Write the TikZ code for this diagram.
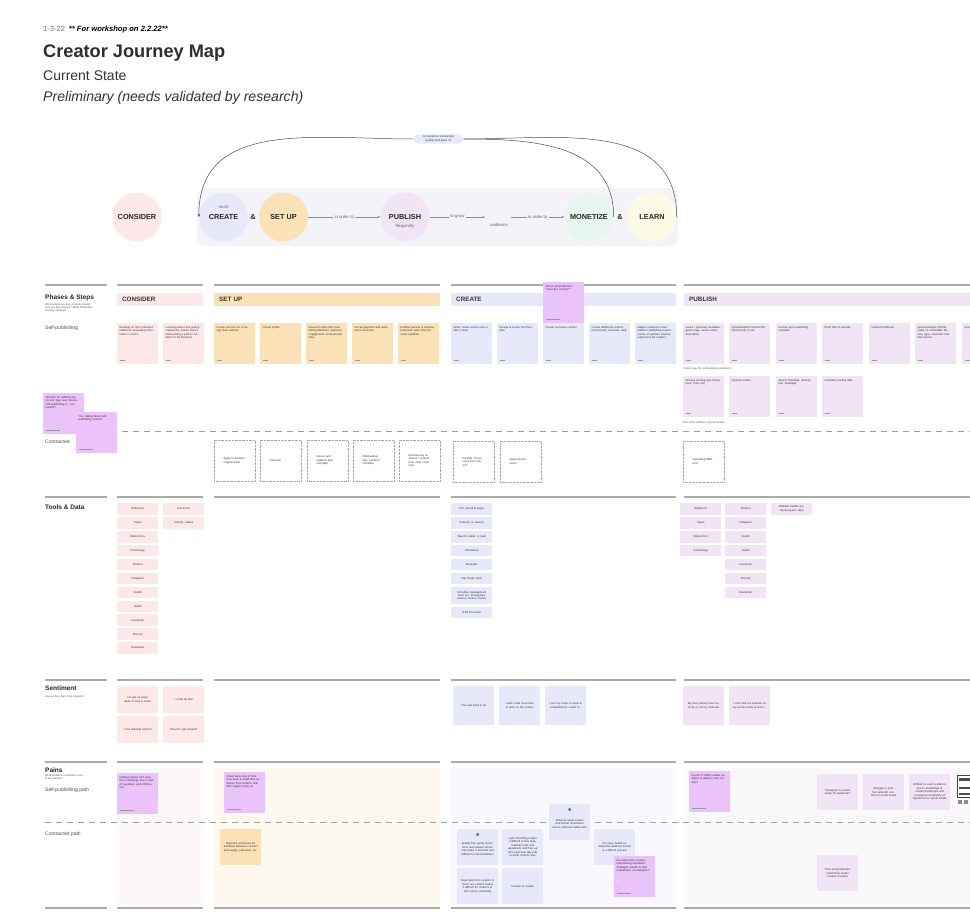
\documentclass[tikz,border=0pt]{standalone}
\usepackage{fontspec}
\setmainfont{Liberation Sans}
\usetikzlibrary{arrows.meta}

\definecolor{consfill}{HTML}{FDE8E9}
\definecolor{setfill}{HTML}{FBE2B6}
\definecolor{creafill}{HTML}{E7E9FA}
\definecolor{pubfill}{HTML}{F1E5F5}
\definecolor{lilac}{HTML}{EBC3FB}
\definecolor{mintfill}{HTML}{E7F6EE}
\definecolor{lemonfill}{HTML}{FBFBE6}
\definecolor{flowbg}{HTML}{F4F4F8}
\definecolor{goalfill}{HTML}{E6E9FB}
\definecolor{painA}{HTML}{FCF8FA}
\definecolor{painB}{HTML}{FEF9EF}
\definecolor{painC}{HTML}{F8F8FE}
\definecolor{painD}{HTML}{FBF8FC}

\tikzset{
    sep/.style       = { draw=black!33, line width=1.1pt },
    lane/.style      = { draw=black!38, line width=1pt, dash pattern=on 6pt off 5pt },
    heading/.style   = { anchor=base west, inner sep=0pt, font=\fontsize{6.5}{7}\selectfont\bfseries, text=black!85 },
    rowlabel/.style  = { anchor=base west, inner sep=0pt, font=\fontsize{5}{6}\selectfont, text=black!70 },
    hint/.style      = { anchor=north west, inner sep=0pt, text width=52pt, align=left,
        font=\fontsize{2.6}{3.3}\selectfont, text=black!70 },
    bar/.style       = { rectangle, anchor=north west, minimum height=13pt, text width=#1,
        inner xsep=5pt, inner ysep=0pt, align=left, font=\fontsize{6.3}{7}\selectfont\bfseries, text=black!80 },
    card/.style      = { rectangle, anchor=north west, minimum width=41pt, minimum height=41pt, inner sep=0pt },
    sticky/.style    = { card, fill=#1, label={[tagtext]south west:{\rule{5pt}{0.5pt}}} },
    comment/.style   = { card, fill=lilac, label={[tagtext]south west:{\rule{14pt}{0.5pt}}} },
    note/.style      = { label={[notetext]north west:{#1}} },
    notetext/.style  = { anchor=north west, xshift=2.5pt, yshift=-3pt, inner sep=0pt, text width=35pt,
        align=left, font=\fontsize{2.8}{3.5}\selectfont, text=black!80 },
    tagtext/.style   = { anchor=south west, xshift=2.5pt, yshift=3pt, inner sep=0pt, text=black!40 },
    tool/.style      = { rectangle, anchor=north west, fill=#1, minimum width=41pt, minimum height=11.5pt,
        text width=38pt, inner sep=0.5pt, align=center, font=\fontsize{2.8}{3.4}\selectfont, text=black!80 },
    contract/.style  = { rectangle, anchor=north west, fill=white, draw=black!35, densely dotted,
        minimum width=41pt, minimum height=41pt, text width=22pt, inner sep=0pt, align=left,
        font=\fontsize{2.8}{3.5}\selectfont, text=black!80 },
    mood/.style      = { rectangle, anchor=north west, fill=#1, minimum width=41pt, text width=34pt,
        inner sep=0pt, align=center, font=\fontsize{2.8}{3.5}\selectfont, text=black!80 },
    pain/.style      = { rectangle, anchor=north west, fill=#1, minimum width=41pt, minimum height=36pt,
        text width=35pt, inner sep=0pt, align=center, font=\fontsize{2.8}{3.5}\selectfont, text=black!80 },
    flagged/.style   = { label={[flagdot]north:{}} },
    flagdot/.style   = { circle, fill=black!55, inner sep=0pt, minimum size=3.5pt, anchor=north, yshift=-3.5pt },
    phase/.style     = { circle, minimum size=49pt, inner sep=0pt, font=\fontsize{7.3}{8}\selectfont\bfseries, text=black!85 },
    flowlabel/.style = { inner sep=1.2pt, fill=flowbg, font=\fontsize{4.3}{5}\selectfont, text=black!60 },
    flowarrow/.style = { draw=black!45, line width=0.5pt, -{Stealth[length=2.5pt,width=2pt]} },
    arc/.style       = { draw=black!70, line width=0.5pt },
}

\begin{document}
\begin{tikzpicture}[x=1pt, y=-1pt]
\useasboundingbox[fill=white] (0,0) rectangle (970,916);

% title block
\node[anchor=base west, inner sep=0pt, font=\fontsize{7.6}{8}\selectfont] (date) at (43,31.5)
    {\textcolor{black!55}{1-3-22}\enspace\textbf{\textit{** For workshop on 2.2.22**}}};
\node[anchor=base west, inner sep=0pt, font=\fontsize{18.2}{20}\selectfont\bfseries, text=black!82] (title) at (43,57) {Creator Journey Map};
\node[anchor=base west, inner sep=0pt, font=\fontsize{14}{16}\selectfont, text=black!80] (state) at (43,80) {Current State};
\node[anchor=base west, inner sep=0pt, font=\fontsize{14.1}{16}\selectfont\itshape, text=black!80] (prelim) at (43,101) {Preliminary (needs validated by research)};

% journey loop
\node[phase, fill=consfill] (consider) at (137,217) {CONSIDER};
\fill[flowbg, rounded corners=8pt] (197,188) rectangle (678,246);
\node[phase, fill=creafill] (create) at (223.5,217) {CREATE};
\node[phase, fill=setfill] (setup) at (283.5,217) {SET UP};
\node[phase, fill=pubfill] (publish) at (405,217) {PUBLISH};
\node[phase, fill=mintfill] (monetize) at (589,217) {MONETIZE};
\node[phase, fill=lemonfill] (learn) at (652,217) {LEARN};
\node[flowlabel, fill=none] (must) at (223.5,207) {must};
\node[flowlabel, fill=none] (often) at (405,226) {frequently};
\node[phase, minimum size=0pt] (amp1) at (253,217) {\&};
\node[phase, minimum size=0pt] (amp2) at (620,217) {\&};
\node[flowlabel] (audience) at (499,225) {audience};
\coordinate (growend) at (485,217);
\coordinate (audout) at (511,217);
\draw[flowarrow] (setup) -- node[flowlabel] {in order to} (publish);
\draw[flowarrow] (publish) -- node[flowlabel] {to grow} (growend);
\draw[flowarrow] (audout) -- node[flowlabel] {in order to} (monetize);
\node[rectangle, rounded corners=5pt, fill=goalfill, inner sep=1.5pt, minimum width=50pt, align=center,
    font=\fontsize{3}{3.6}\selectfont, text=black!75] (goal) at (438.5,139) {to sustain or accelerate\\quality and pace of:};
\draw[arc, -{Stealth[length=3pt,width=2.5pt]}] (goal.west) to[out=180, in=90, looseness=1.1] (create.west);
\draw[arc] (goal.east) to[out=0, in=90, looseness=1.1] (monetize.east);
\draw[arc] (goal.east) to[out=0, in=90, looseness=1.1] (learn.east);

% lane rules
\foreach \y in {285,497,680,762,908}
    \foreach \a/\b in {45/107,117/203,214/440,451/676,684/970}
        \draw[sep] (\a,\y) -- (\b,\y);

% pains backgrounds
\fill[painA] (117,768) rectangle (203,906);
\fill[painB] (214,768) rectangle (440,906);
\fill[painC] (451,768) rectangle (676,906);
\fill[painD] (684,768) rectangle (970,906);

\draw[lane] (45,431) -- (970,431);
\draw[lane] (45,822) -- (970,822);

% phases & steps
\node[heading] (phases) at (45,299.5) {Phases \& Steps};
\node[hint] (phaseshint) at (45,303) {What actions are they currently taking? How are they doing it? What information are they seeking?};
\node[rowlabel] (selfpub) at (45,329) {Self-publishing};
\node[rowlabel] (contracted) at (45,443.5) {Contracted};

\node[bar=76pt, fill=consfill] (barconsider) at (117,293) {CONSIDER};
\node[bar=216pt, fill=setfill] (barsetup) at (214,293) {SET UP};
\node[bar=215pt, fill=creafill] (barcreate) at (451,293) {CREATE};
\node[bar=276pt, fill=pubfill] (barpublish) at (684,293) {PUBLISH};

\node[sticky=consfill, note={Reading on their preferred platforms; developing their taste in comics}] (cons1) at (117,323) {};
\node[sticky=consfill, note={Learning about and getting inspired by creator stories (discovering a path to creation for themselves)}] (cons2) at (163,323) {};

\node[sticky=setfill, note={Create account on or design their website}] (set1) at (214,323) {};
\node[sticky=setfill, note={Create profile}] (set2) at (260,323) {};
\node[sticky=setfill, note={Research with other publishing platforms, payment, engagement, and potential titles}] (set3) at (306,323) {};
\node[sticky=setfill, note={Set up payment and assistance accounts}] (set4) at (352,323) {};
\node[sticky=setfill, note={Enable revenue \& develop proposals when they become qualified}] (set5) at (398,323) {};

\node[sticky=creafill, note={Write / draw comics solo or with a team}] (crea1) at (451,323) {};
\node[sticky=creafill, note={Design \& create merchandise}] (crea2) at (497,323) {};
\node[sticky=creafill, note={Create exclusive content}] (crea3) at (543,323) {};
\node[sticky=creafill, note={Create additional content (Community, previews, edit)}] (crea4) at (589,323) {};
\node[sticky=creafill, note={Adapts content to meet platform publishing requirements or optimize viewing experience for readers}] (crea5) at (635,323) {};
\node[comment, note={Which self-publishers *monetize content*?}] (askmonetize) at (543,282) {};

\node[sticky=pubfill, note={Select / generate metadata: genre, tags, series name, description}] (pub1) at (683,323) {};
\node[sticky=pubfill, note={Upload/submit content (file size/format) to site}] (pub2) at (729,323) {};
\node[sticky=pubfill, note={Decide upon publishing schedule}] (pub3) at (776,323) {};
\node[sticky=pubfill, note={Enter title of episode}] (pub4) at (822,323) {};
\node[sticky=pubfill, note={Upload thumbnail}] (pub5) at (869,323) {};
\node[sticky=pubfill, note={Upload images (thumbnails) on compatible file size, type, resolution and dimensions}] (pub6) at (915,323) {};
\node[sticky=pubfill, note={Schedule episode release}] (pub7) at (962,323) {};
\node[hint, text width=80pt] (comichint) at (683,367.5) {Comics specific, self-publishing platforms};
\node[sticky=pubfill, note={Choose posting type (Story, Reel, Post, etc)}] (soc1) at (683,376) {};
\node[sticky=pubfill, note={Upload content}] (soc2) at (729,376) {};
\node[sticky=pubfill, note={Attach metadata: description, hashtags}] (soc3) at (776,376) {};
\node[sticky=pubfill, note={Schedule posting date}] (soc4) at (822,376) {};
\node[hint, text width=80pt] (socialhint) at (683,421.5) {Non-comic platforms (social media)};

\node[comment, note={Should I be splitting any Creator type user stories: Self-publishing vs. contracted?}] (asksplit) at (43,393) {};
\node[comment, note={Yes, talking about self-publishing creators}] (answersplit) at (76,412) {};

% contracted row
\node[contract] (con1) at (214,440) {Apply to become original artist};
\node[contract] (con2) at (260,440) {Interview};
\node[contract] (con3) at (307,440) {Revise and adapt to their storyplan};
\node[contract] (con4) at (353,440) {Onboarding / sign contract / complete};
\node[contract] (con5) at (399,440) {Receive any revisions / content from other channels};
\node[contract] (con6) at (453,441) {Rounds of revisions from editor?};
\node[contract] (con7) at (500,441) {Approval process?};
\node[contract] (con8) at (683,441) {Uploading different?};

% tools & data
\node[heading] (tools) at (45,509) {Tools \& Data};
\foreach \t [count=\i from 0] in {Webtoons, Tapas, Webcomics, Comixology, Patreon, Instagram, Reddit, Twitter, Facebook, Discord, Deviantart}
    \node[tool=consfill] (ctool\i) at (117,{503+13.9*\i}) {\t};
\node[tool=consfill] (ctoolcon) at (163,503) {ComicCon};
\node[tool=consfill] (ctoolart) at (163,516.9) {Articles, videos};
\foreach \t [count=\i from 0] in {{Pen, pencil \& paper}, Scanner or camera, {Wacom, tablet, or ipad}, Photoshop, Illustrator, Clip Studio Paint}
    \node[tool=creafill] (ttool\i) at (451,{503+13.9*\i}) {\t};
\node[tool=creafill, minimum height=17pt] (ttoolplan) at (451,587) {Schedule management tools (ex: Instagram's planner, Notion, Trello)};
\node[tool=creafill] (ttoolipad) at (451,606.5) {iPad Procreate};
\foreach \t [count=\i from 0] in {Webtoons, Tapas, Webcomics, Comixology}
    \node[tool=pubfill] (ptool\i) at (680,{503+13.9*\i}) {\t};
\foreach \t [count=\i from 0] in {Patreon, Instagram, Reddit, Twitter, Facebook, Discord, Deviantart}
    \node[tool=pubfill] (stool\i) at (725,{503+13.9*\i}) {\t};
\node[tool=pubfill] (ptoolweb) at (771,503) {Website builder (ex: Squarespace, Wix)};

% sentiment
\node[heading] (sentiment) at (45,690) {Sentiment};
\node[hint] (sentimenthint) at (45,695.5) {How do they feel in the moment?};
\node[mood=consfill, minimum height=27pt] (feel1) at (117,686) {I've got so many ideas in how to share};
\node[mood=consfill, minimum height=27pt] (feel2) at (163,686) {I could do that};
\node[mood=consfill, minimum height=27pt] (feel3) at (117,716) {I love drawing comics!};
\node[mood=consfill, minimum height=27pt] (feel4) at (163,716) {How do I get started?};
\node[mood=creafill, minimum height=39pt] (feel5) at (453,686) {This was hard to do};
\node[mood=creafill, minimum height=39pt] (feel6) at (499,686) {I wish I had more time to work on the comics};
\node[mood=creafill, minimum height=39pt] (feel7) at (545,686) {I see my comic is stuck in a deadlock bc I want it\dots};
\node[mood=pubfill, minimum height=39pt] (feel8) at (683,686) {My story doesn't feel correctly on all my channels};
\node[mood=pubfill, minimum height=39pt] (feel9) at (729,686) {I can't find my episode on my social media account\dots};

% pains
\node[heading] (pains) at (45,772) {Pains};
\node[hint, text width=40pt] (painshint) at (45,774.5) {What problems or barriers occur in the process?};
\node[rowlabel] (selfpath) at (45,791) {Self-publishing path};
\node[rowlabel] (contractpath) at (45,835) {Contracted path};

\node[comment, note={Getting started isn't easy but a challenge due to lack of regulation and information}] (painstart) at (117,773) {};
\node[comment, note={Setup takes lots of time, they have to build their audience from scratch, with little support early on}] (painsetup) at (224,772) {};
\node[pain=setfill] (painrigor) at (220,829) {Rigorous processes for transition between contract and supply, execution, etc.};

\node[pain=creafill, flagged] (painratio) at (549,804) {\\[2pt]Different aspect ratios and format restrictions across channels adds work};
\node[pain=creafill, flagged] (painquality) at (457,829) {\\[2pt]Quality bar, panel restrictions and release schedules make it stressful and difficult to meet deadlines};
\node[pain=creafill] (painfunding) at (502,829) {Lack of funding makes it difficult to hire help, maintain tools and equipment, and free up time (quit their day job) to meet content reqs};
\node[pain=creafill] (painexpect) at (457,868) {Expectation for creators to churn out content makes it difficult for creators to tell a story coherently};
\node[pain=creafill] (painunclear) at (502,868) {Unclear or unsafe};
\node[pain=creafill] (painformat) at (594,829) {For new creators to adopt the webtoon format is a difficult process};
\node[comment, note={Are webcomic creators internalizing reputation strategies similar to their mainstream counterparts?\\[13pt]\dots}] (askrep) at (614,856) {};

\node[comment, note={A lack of visible reader analytics \& data for new creators}] (painmetrics) at (689,771) {};
\node[pain=pubfill] (painlandscape) at (817,774) {``Instagram is a landscape for audiences''};
\node[pain=pubfill] (painposition) at (863,774) {Struggle to position episodic content on social media};
\node[pain=pubfill] (painreach) at (909,774) {Difficult to reach audience due to knowledge of content landscape and increasing complexity of algorithms on social media};
\node[pain=pubfill] (painfreedom) at (817,855) {Time and production restrictions and/or creative freedom};
% screenshot thumbnail
\node[rectangle, anchor=north west, draw=black!75, fill=white, minimum width=16pt, minimum height=22pt, inner sep=0pt] (shot) at (957,775) {};
\fill[black!70] (959,778) rectangle (972,781);
\fill[black!70] (959,787) rectangle (972,789);
\fill[black!70] (959,793) rectangle (972,795);
\fill[black!45] (958,800) rectangle (962,804);
\fill[black!45] (964,800) rectangle (968,804);
\end{tikzpicture}
\end{document}
